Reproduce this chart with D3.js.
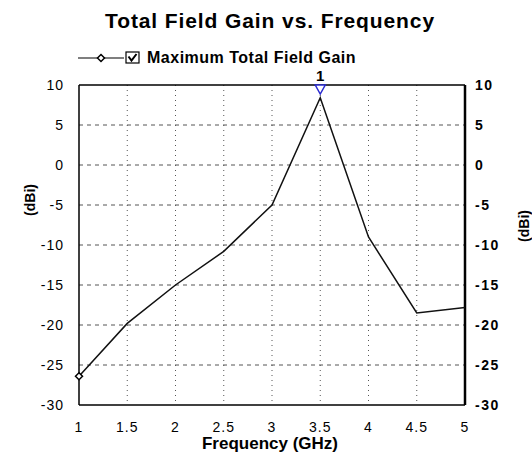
<!DOCTYPE html>
<html>
<head>
<meta charset="utf-8">
<script src="https://cdn.jsdelivr.net/npm/d3@7"></script>
<style>
  body { margin: 0; background: #fff; }
  svg { display: block; font-family: "Liberation Sans", Arial, sans-serif; }
</style>
</head>
<body>
<svg width="532" height="455"></svg>
<script>
// data
const freqs = [1, 1.5, 2, 2.5, 3, 3.5, 4, 4.5, 5];
const gain = [-26.4, -19.8, -15.0, -10.8, -5.0, 8.4, -9.0, -18.5, -17.8];
const xTicks = [1, 1.5, 2, 2.5, 3, 3.5, 4, 4.5, 5];
const yTicks = [10, 5, 0, -5, -10, -15, -20, -25, -30];

const svg = d3.select('svg');
const plotL = 79, plotR = 465, plotT = 85, plotB = 405;

const x = d3.scaleLinear().domain([1, 5]).range([plotL, plotR]);
const y = d3.scaleLinear().domain([-30, 10]).range([plotB, plotT]);

// title
svg.append('text')
    .attr('x', 270).attr('y', 28)
    .attr('text-anchor', 'middle')
    .style('font-size', '21px').style('font-weight', 'bold')
    .style('letter-spacing', '0.9px')
    .text('Total Field Gain vs. Frequency');

// grid
const grid = svg.append('g');
grid.selectAll('.h').data(yTicks.slice(1, -1)).enter().append('line')
    .attr('x1', plotL).attr('x2', plotR)
    .attr('y1', d => y(d)).attr('y2', d => y(d))
    .attr('stroke', '#555').attr('stroke-width', 1)
    .attr('stroke-dasharray', '4,4');
grid.selectAll('.v').data(xTicks.slice(1, -1)).enter().append('line')
    .attr('x1', d => x(d)).attr('x2', d => x(d))
    .attr('y1', plotT).attr('y2', plotB)
    .attr('stroke', '#555').attr('stroke-width', 1)
    .attr('stroke-dasharray', '1,4');

// frame
svg.append('line').attr('x1', plotL).attr('x2', plotR).attr('y1', plotT).attr('y2', plotT)
    .attr('stroke', '#000').attr('stroke-width', 1.5);
svg.append('line').attr('x1', plotL).attr('x2', plotR).attr('y1', plotB).attr('y2', plotB)
    .attr('stroke', '#000').attr('stroke-width', 1.5);
svg.append('line').attr('x1', plotL).attr('x2', plotL).attr('y1', plotT).attr('y2', plotB)
    .attr('stroke', '#000').attr('stroke-width', 1.5);
svg.append('line').attr('x1', plotR).attr('x2', plotR).attr('y1', plotT).attr('y2', plotB)
    .attr('stroke', '#000').attr('stroke-width', 2.5);

// left axis labels
svg.append('g').selectAll('text').data(yTicks).enter().append('text')
    .attr('x', 64).attr('y', d => y(d) + 5)
    .attr('text-anchor', 'end')
    .style('font-size', '14px').style('letter-spacing', '1px')
    .text(d => d);

// right axis labels
svg.append('g').selectAll('text').data(yTicks).enter().append('text')
    .attr('x', 475).attr('y', d => y(d) + 5)
    .style('font-size', '14px').style('font-weight', 'bold')
    .style('letter-spacing', '1.5px')
    .text(d => d);

// x axis labels
svg.append('g').selectAll('text').data(xTicks).enter().append('text')
    .attr('x', d => x(d)).attr('y', 432)
    .attr('text-anchor', 'middle')
    .style('font-size', '14px').style('letter-spacing', '1px')
    .text(d => d);

svg.append('text')
    .attr('x', 270).attr('y', 449)
    .attr('text-anchor', 'middle')
    .style('font-size', '17px').style('font-weight', 'bold')
    .text('Frequency (GHz)');

// y labels
svg.append('text')
    .attr('transform', 'translate(35,200) rotate(-90)')
    .attr('text-anchor', 'middle')
    .style('font-size', '14px').style('font-weight', 'bold')
    .text('(dBi)');
svg.append('text')
    .attr('transform', 'translate(529,226) rotate(-90)')
    .attr('text-anchor', 'middle')
    .style('font-size', '14px').style('font-weight', 'bold')
    .text('(dBi)');

// series
const line = d3.line().x((d, i) => x(freqs[i])).y(d => y(d));
svg.append('path')
    .datum(gain)
    .attr('d', line)
    .attr('fill', 'none')
    .attr('stroke', '#111').attr('stroke-width', 1.5);

// marker at first point
function diamond(g, cx, cy) {
    g.append('path')
        .attr('d', `M${cx},${cy - 3.5}L${cx + 3.5},${cy}L${cx},${cy + 3.5}L${cx - 3.5},${cy}Z`)
        .attr('fill', '#fff').attr('stroke', '#000').attr('stroke-width', 1.5);
}
diamond(svg, x(freqs[0]), y(gain[0]));

// peak marker
const iMax = d3.maxIndex(gain);
const px = x(freqs[iMax]);
svg.append('path')
    .attr('d', `M${px - 5},${plotT}L${px + 5},${plotT}L${px},${plotT + 9}Z`)
    .attr('fill', '#fff').attr('stroke', '#2a2ad0').attr('stroke-width', 1.5);
svg.append('text')
    .attr('x', px).attr('y', 81)
    .attr('text-anchor', 'middle')
    .style('font-size', '15px').style('font-weight', 'bold')
    .text('1');

// legend
const lg = svg.append('g');
lg.append('line').attr('x1', 78).attr('x2', 124).attr('y1', 58).attr('y2', 58)
    .attr('stroke', '#000').attr('stroke-width', 1.2);
diamond(lg, 101, 58);
lg.append('rect').attr('x', 126).attr('y', 52).attr('width', 13).attr('height', 11)
    .attr('fill', '#fff').attr('stroke', '#000').attr('stroke-width', 1.2);
lg.append('path').attr('d', 'M128.5,56.5L131.5,60.5L136.5,54')
    .attr('fill', 'none').attr('stroke', '#000').attr('stroke-width', 2);
lg.append('text')
    .attr('x', 147).attr('y', 63)
    .style('font-size', '16px').style('font-weight', 'bold')
    .style('letter-spacing', '0.5px')
    .text('Maximum Total Field Gain');
</script>
</body>
</html>
